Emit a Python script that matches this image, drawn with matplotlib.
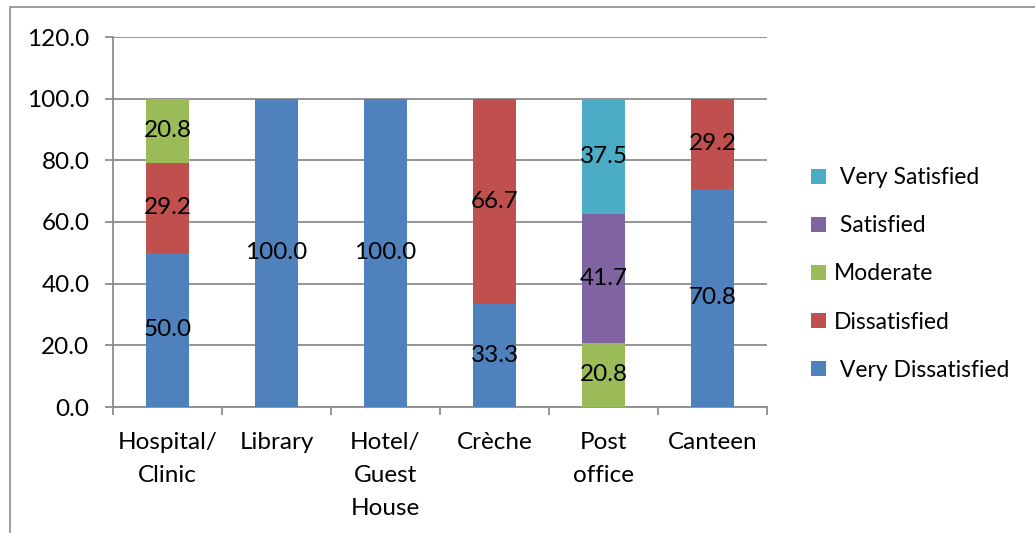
import matplotlib
matplotlib.use("Agg")
import matplotlib.pyplot as plt
from matplotlib.patches import Rectangle
import numpy as np

categories = ["Hospital/\nClinic", "Library", "Hotel/\nGuest\nHouse", "Crèche", "Post\noffice", "Canteen"]
series_names = [" Very Dissatisfied", "Dissatisfied", "Moderate", " Satisfied", " Very Satisfied"]
very_dissatisfied = [50.0, 100.0, 100.0, 33.3, 0.0, 70.8]
dissatisfied = [29.2, 0.0, 0.0, 66.7, 0.0, 29.2]
moderate = [20.8, 0.0, 0.0, 0.0, 20.8, 0.0]
satisfied = [0.0, 0.0, 0.0, 0.0, 41.7, 0.0]
very_satisfied = [0.0, 0.0, 0.0, 0.0, 37.5, 0.0]
y_ticks = [0, 20, 40, 60, 80, 100, 120]

colors = ["#4F81BD", "#C0504D", "#9BBB59", "#8064A2", "#4BACC6"]
series = [very_dissatisfied, dissatisfied, moderate, satisfied, very_satisfied]

plt.rcParams["font.family"] = ["Lato", "DejaVu Sans"]
FS = 17.5
LEG_FS = 16.5

fig = plt.figure(figsize=(10.35, 5.33), dpi=100)
ax = fig.add_axes([113 / 1035, 1 - 407 / 533, (767 - 113) / 1035, (407 - 37) / 533])

x = np.arange(len(categories))
bottom = np.zeros(len(categories))
handles = []
for name, vals, col in zip(series_names, series, colors):
    vals = np.array(vals)
    bars = ax.bar(x, vals, width=0.4, bottom=bottom, color=col, label=name, zorder=3)
    handles.append(bars)
    for xi, v, b in zip(x, vals, bottom):
        if v > 0:
            ax.text(xi, b + v / 2, f"{v:.1f}", ha="center", va="center",
                    fontsize=FS, color="black", zorder=4)
    bottom += vals

ax.set_xlim(-0.5, len(categories) - 0.5)
ax.set_ylim(0, 120)
ax.set_yticks(y_ticks)
ax.set_yticklabels([f"{t:.1f}" for t in y_ticks], fontsize=FS)
ax.yaxis.grid(True, color="#8c8c8c", linewidth=1.3, zorder=0)
ax.set_axisbelow(True)

ax.set_xticks(x)
ax.set_xticklabels(categories, fontsize=FS, linespacing=1.72, va="top")
ax.set_xticks(np.arange(len(categories) + 1) - 0.5, minor=True)
ax.tick_params(axis="x", which="major", length=0, pad=18)
ax.tick_params(axis="x", which="minor", length=6, color="#8c8c8c", width=1.3, direction="out")
ax.tick_params(axis="y", length=6, color="#8c8c8c", width=1.3, pad=11)

for side in ["top", "right"]:
    ax.spines[side].set_visible(False)
for side in ["left", "bottom"]:
    ax.spines[side].set_color("#8c8c8c")
    ax.spines[side].set_linewidth(1.3)

# legend listed top-down from most to least satisfied
leg = fig.legend(handles[::-1], series_names[::-1], loc="center left",
                 bbox_to_anchor=(790 / 1035, 1 - 274 / 533), frameon=False,
                 fontsize=LEG_FS, handlelength=0.655, handleheight=0.655,
                 handletextpad=0.35, labelspacing=1.18)

# outer chart border
fig.patches.append(Rectangle((10 / 1035, -0.1), 2.0, (533 - 7) / 533 + 0.1,
                             transform=fig.transFigure, fill=False,
                             edgecolor="#8c8c8c", linewidth=1.2))

fig.savefig("out.png", dpi=100)
